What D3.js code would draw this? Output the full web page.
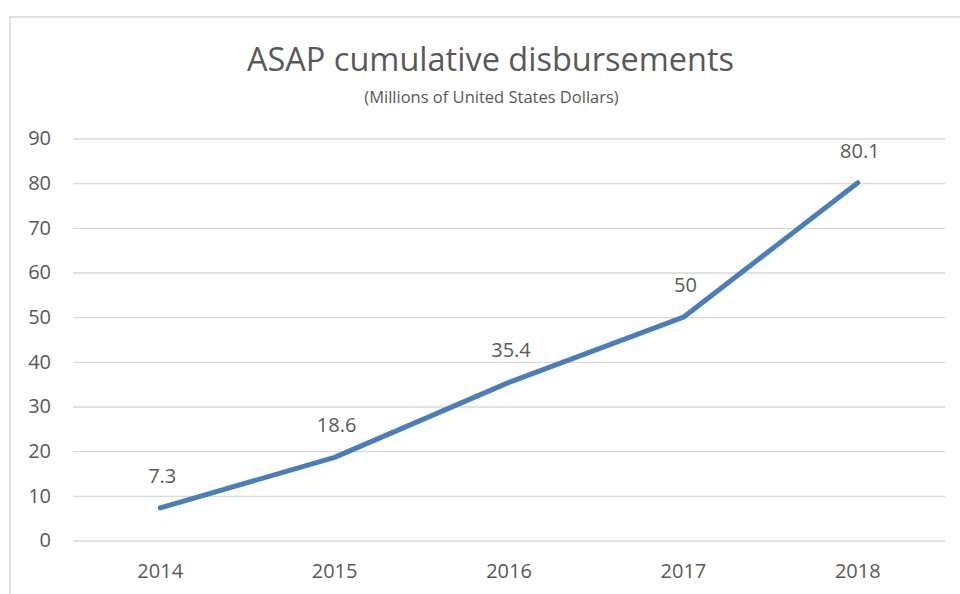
<!DOCTYPE html>
<html><head><meta charset="utf-8">
<script src="https://cdn.jsdelivr.net/npm/d3@7"></script>
<style>body{margin:0;background:#fff}svg{display:block}text{font-family:"Open Sans","Liberation Sans",sans-serif;fill:#595959}</style>
</head><body><svg id="c" width="960" height="594"></svg>
<script>
const categories = ["2014","2015","2016","2017","2018"];
const values = [7.3, 18.6, 35.4, 50, 80.1];
const yTicks = [0,10,20,30,40,50,60,70,80,90];
const title = "ASAP cumulative disbursements";
const subtitle = "(Millions of United States Dollars)";

const svg = d3.select("#c");
const W = 960, H = 594;
const plot = {left:73, right:945, top:138.5, bottom:540.5};

svg.append("rect").attr("x",10).attr("y",17).attr("width",W).attr("height",H)
  .attr("fill","#fff").attr("stroke","#d9d9d9").attr("stroke-width",1.5);

const x = d3.scaleBand().domain(categories).range([plot.left, plot.right]);
const y = d3.scaleLinear().domain([0,90]).range([plot.bottom, plot.top]);

const yAxis = d3.axisLeft(y).tickValues(yTicks).tickSize(-(plot.right-plot.left)).tickPadding(22);
const gy = svg.append("g").attr("transform",`translate(${plot.left},0)`).call(yAxis);
gy.select(".domain").remove();
gy.selectAll(".tick line").attr("stroke","#d9d9d9").attr("stroke-width",1.3);
gy.selectAll(".tick text").style("font-size","20px").attr("fill","#595959");

const xAxis = d3.axisBottom(x).tickSize(0).tickPadding(23);
const gx = svg.append("g").attr("transform",`translate(0,${plot.bottom})`).call(xAxis);
gx.select(".domain").remove();
gx.selectAll(".tick text").style("font-size","20px").attr("fill","#595959");

const data = categories.map((c,i)=>({c, v:values[i]}));
const line = d3.line().x(d=>x(d.c)+x.bandwidth()/2).y(d=>y(d.v));
svg.append("path").datum(data).attr("d",line).attr("fill","none")
  .attr("stroke","#4a7ebb").attr("stroke-width",5).attr("stroke-linecap","round").attr("stroke-linejoin","round");

svg.selectAll(".lbl").data(data).enter().append("text").attr("class","lbl")
  .attr("x",d=>x(d.c)+x.bandwidth()/2+2).attr("y",d=>y(d.v)-25)
  .attr("text-anchor","middle").style("font-size","20px").attr("fill","#404040")
  .text(d=>String(d.v));

svg.append("text").attr("x",490.5).attr("y",70.5).attr("text-anchor","middle")
  .style("font-size","32.5px").text(title);
svg.append("text").attr("x",491.5).attr("y",103).attr("text-anchor","middle")
  .style("font-size","16.5px").text(subtitle);
</script></body></html>
